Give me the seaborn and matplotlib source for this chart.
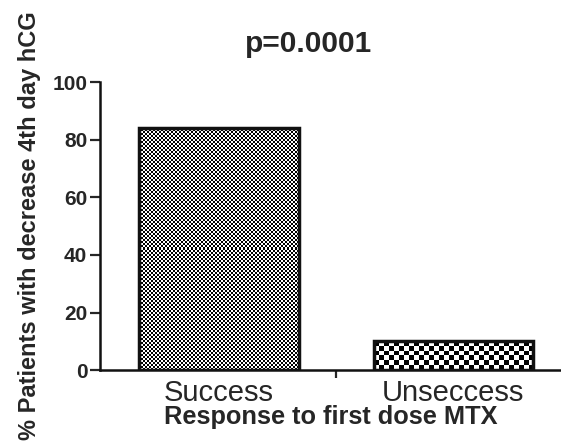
import numpy as np
import pandas as pd
import matplotlib
matplotlib.use("Agg")
import matplotlib.pyplot as plt
import seaborn as sns

# data
groups = ["Success", "Unseccess"]
percent = [84, 10]
checker_px = [2, 5]   # checker cell size (pixels) of each bar's fill

df = pd.DataFrame({"group": groups, "pct": percent})

sns.set_theme(style="ticks")
plt.rcParams['font.family'] = ['Liberation Sans', 'DejaVu Sans']

fig = plt.figure(figsize=(5.61, 4.46), dpi=100)
ax = fig.add_axes([0.178, 0.170, 0.822, 0.646])

sns.barplot(data=df, x="group", y="pct", ax=ax, width=0.68,
            color="white", edgecolor="#111111", linewidth=2.5)

ax.set_xlim(-0.509, 1.46)
ax.set_ylim(0, 100)
ax.set_yticks([0, 20, 40, 60, 80, 100])
ax.set_xticks([0, 1])
ax.set_xticks([0.5], minor=True)

ax.tick_params(axis='y', which='major', length=7, width=1.6, labelsize=15, pad=2)
ax.tick_params(axis='x', which='major', length=0, labelsize=21, pad=6)
ax.tick_params(axis='x', which='minor', length=6, width=1.6)
for lab in ax.get_yticklabels():
    lab.set_fontweight('bold')

sns.despine(ax=ax)
for s in ['left', 'bottom']:
    ax.spines[s].set_linewidth(1.8)
    ax.spines[s].set_color('#111111')

ax.set_xlabel("Response to first dose MTX", fontsize=18.3, fontweight='bold', labelpad=-1)
ax.set_ylabel("% Patients with decrease 4th day hCG", fontsize=17, fontweight='bold', labelpad=8)
ax.set_title("p=0.0001", fontsize=21.5, fontweight='bold', pad=22, x=0.453)

# checkerboard fill clipped to each bar
fig.canvas.draw()
for patch, cell in zip(ax.patches, checker_px):
    bb = patch.get_window_extent()
    nx = max(int(round(bb.width / cell)), 2)
    ny = max(int(round(bb.height / cell)), 2)
    board = (np.indices((ny, nx)).sum(axis=0) % 2).astype(float)
    x0, y0 = patch.get_x(), patch.get_y()
    w, h = patch.get_width(), patch.get_height()
    im = ax.imshow(board, cmap='gray', vmin=0, vmax=1, interpolation='nearest',
                   extent=[x0, x0 + w, y0, y0 + h], aspect='auto', zorder=patch.get_zorder() - 0.1)
    im.set_clip_path(patch)
    patch.set_facecolor('none')
    patch.set_zorder(patch.get_zorder() + 0.2)

ax.set_xlim(-0.509, 1.46)
ax.set_ylim(0, 100)

fig.savefig("out.png", dpi=100)
